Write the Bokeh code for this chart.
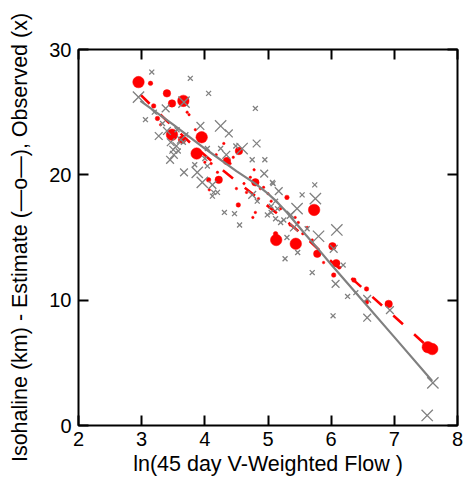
from bokeh.plotting import figure
from bokeh.models import Range1d, LinearAxis, FixedTicker, ColumnDataSource
from bokeh.embed import file_html
from bokeh.resources import INLINE

# ---- data ----
obs_x = [3.16, 3.77, 4.06, 2.95, 3.67, 4.80, 3.06, 3.38, 3.20, 3.27, 3.93, 4.25, 4.38, 4.82, 4.59, 4.04, 4.25, 4.34,
         3.46, 3.50, 3.55, 3.62, 3.51, 3.45, 3.58, 3.66, 3.40, 3.70, 3.33, 3.56,
         3.67, 3.88, 3.96, 4.12, 4.14, 4.20, 4.12, 3.84, 4.00, 4.04, 4.49, 4.75, 4.95, 4.94, 5.07, 5.17, 4.75, 4.83,
         5.08, 5.12, 5.54, 5.74, 5.75, 5.46, 5.36, 4.99, 5.05, 5.12, 4.31, 4.47, 4.55, 5.20, 5.25, 5.41, 5.62, 5.80,
         6.09, 6.04, 5.30, 5.47, 5.27, 6.19, 5.70, 6.07, 6.26, 6.39, 6.57, 6.57, 6.03, 6.93, 7.61, 7.52, 5.05, 5.15]
obs_y = [28.2, 27.7, 26.5, 26.2, 25.8, 25.3, 24.4, 25.3, 25.0, 23.1, 23.9, 23.9, 23.3, 22.5, 22.1, 22.1, 22.1, 21.6,
         22.6, 22.0, 22.3, 22.8, 21.6, 21.2, 21.9, 22.6, 23.5, 23.2, 24.1, 23.6,
         20.2, 20.2, 19.4, 19.2, 18.6, 18.6, 18.3, 20.8, 21.3, 20.7, 22.3, 21.2, 21.2, 20.1, 19.4, 18.7, 18.4, 17.9,
         19.3, 17.9, 18.4, 19.2, 18.1, 17.3, 16.8, 16.8, 17.0, 16.5, 17.0, 16.9, 16.0, 16.2, 16.4, 15.8, 15.7, 15.1,
         15.6, 14.1, 15.0, 13.8, 13.3, 12.8, 12.2, 11.3, 10.3, 10.6, 10.1, 8.6, 8.75, 9.2, 3.4, 0.8, 17.5, 17.3]
obs_w = [1, 1, 1, 3, 3, 1, 1, 2, 1, 2, 2, 3, 2, 2, 3, 1, 1, 2,
         2, 2, 2, 2, 2, 2, 1, 1, 2, 1, 1, 1,
         2, 3, 3, 2, 1, 1, 1, 1, 1, 1, 1, 1, 1, 2, 1, 2, 2, 1,
         1, 1, 1, 1, 3, 3, 2, 1, 1, 1, 1, 1, 1, 1, 1, 2, 1, 3,
         3, 2, 1, 1, 1, 1, 1, 2, 1, 1, 2, 2, 1, 2, 3, 3, 1, 1]

est_x = [2.95, 3.14, 3.40, 3.48, 3.66, 3.19, 3.75, 3.25, 3.48, 3.64, 3.95, 3.87, 4.22, 4.06, 4.53, 4.54, 4.35, 4.80,
         5.73, 5.30, 5.13, 5.12, 4.78, 4.72, 5.43, 5.44, 5.78, 6.02, 6.08, 6.04, 6.56, 6.36, 6.56, 6.91, 7.53, 7.60,
         3.30, 3.85, 4.00, 4.10, 4.18, 4.30, 4.40, 4.62, 4.66, 4.50, 4.85, 4.93, 5.00, 4.80, 4.76, 5.20, 5.35, 5.55,
         5.62, 5.88, 6.14, 4.20, 4.07, 3.72, 4.45, 4.88, 5.05, 5.48, 5.70]
est_y = [27.4, 27.3, 26.5, 25.7, 25.9, 25.5, 24.8, 24.5, 23.2, 22.8, 23.0, 21.7, 19.6, 19.6, 17.6, 21.9, 21.1, 19.4,
         17.2, 18.2, 14.8, 15.3, 20.4, 19.8, 16.6, 14.5, 13.7, 14.3, 12.95, 12.0, 10.9, 11.6, 9.85, 9.7, 6.25, 6.1,
         24.0, 23.6, 21.0, 20.9, 21.6, 22.5, 20.9, 19.3, 18.6, 18.9, 18.1, 19.0, 18.5, 17.0, 16.6, 17.3, 16.0, 15.3,
         15.8, 13.0, 12.6, 20.2, 18.8, 25.0, 21.4, 18.9, 17.9, 16.2, 14.8]
est_w = [4, 2, 3, 3, 4, 2, 1, 2, 4, 3, 4, 4, 3, 2, 2, 3, 3, 3,
         4, 2, 4, 2, 1, 1, 1, 4, 3, 3, 3, 2, 2, 2, 2, 3, 4, 4,
         1, 1, 1, 1, 1, 1, 1, 1, 1, 1, 1, 1, 1, 1, 1, 1, 1, 1,
         1, 1, 1, 1, 1, 1, 1, 1, 1, 1, 1]

trend_x = [2.98, 3.38, 3.76, 4.2, 4.8, 5.2, 5.6, 6.0, 6.4, 6.8, 7.2, 7.57]
trend_y = [26.4, 24.4, 22.6, 20.7, 18.3, 16.7, 15.0, 13.1, 11.4, 9.6, 7.8, 6.1]

fit_x = [2.98, 3.5, 4.0, 4.5, 4.8, 5.0, 5.15, 5.3, 5.45, 5.6, 5.8, 6.0, 6.5, 7.0, 7.6]
fit_y = [25.9, 24.0, 22.1, 20.3, 19.3, 18.5, 17.8, 17.0, 16.1, 15.2, 14.05, 12.85, 9.95, 7.05, 3.55]

x_ticks = [2, 3, 4, 5, 6, 7, 8]
y_ticks = [0, 10, 20, 30]
y_title = "Isohaline (km) - Estimate (\u2014o\u2014), Observed (x)"
x_title = "ln(45 day V-Weighted Flow )"

# ---- styles ----
obs_size_map = {1: 7, 2: 11, 3: 16}
est_size_map = {1: 2.5, 2: 4.5, 3: 7.5, 4: 11.5}
FONT = "Liberation Sans"
FS = "20px"
TFS = "21.5px"

p = figure(width=464, height=489, x_range=Range1d(2, 8), y_range=Range1d(0, 30),
           output_backend="svg", toolbar_location=None,
           min_border_left=78, min_border_right=7, min_border_top=49, min_border_bottom=64)
p.xgrid.visible = False
p.ygrid.visible = False
p.outline_line_color = "black"
p.outline_line_width = 2
p.background_fill_color = "white"
p.border_fill_color = "white"

est_src = ColumnDataSource(dict(x=est_x, y=est_y, s=[est_size_map[w] for w in est_w]))
obs_src = ColumnDataSource(dict(x=obs_x, y=obs_y, s=[obs_size_map[w] for w in obs_w]))

p.line(trend_x, trend_y, line_color="#ff0000", line_width=2.6, line_dash="13 15")
p.scatter("x", "y", size="s", source=est_src, marker="circle",
          fill_color="#ff0000", line_color="#ff0000", line_width=0.5)
p.scatter("x", "y", size="s", source=obs_src, marker="x",
          line_color="#808080", line_width=1.3)
p.line(fit_x, fit_y, line_color="#808080", line_width=2.2)

xa = p.xaxis[0]
xa.ticker = FixedTicker(ticks=x_ticks)
ya = p.yaxis[0]
ya.ticker = FixedTicker(ticks=y_ticks)
for ax in (xa, ya):
    ax.axis_line_color = None
    ax.major_tick_in = 10
    ax.major_tick_out = 0
    ax.major_tick_line_width = 2
    ax.major_tick_line_color = "black"
    ax.minor_tick_line_color = None
    ax.major_label_text_font = FONT
    ax.major_label_text_font_size = FS
    ax.major_label_text_color = "black"
    ax.axis_label_text_font = FONT
    ax.axis_label_text_font_size = TFS
    ax.axis_label_text_font_style = "normal"
    ax.axis_label_text_color = "black"
xa.major_label_standoff = 6
ya.major_label_standoff = 7
ya.axis_label = y_title
ya.axis_label_standoff = 14
xa.axis_label = x_title
xa.axis_label_standoff = 3

top = LinearAxis(ticker=FixedTicker(ticks=x_ticks), axis_line_color=None, major_tick_in=10,
                 major_tick_out=0, major_tick_line_width=2, minor_tick_line_color=None,
                 major_label_overrides={t: "" for t in x_ticks}, major_label_text_font_size="0px")
right = LinearAxis(ticker=FixedTicker(ticks=y_ticks), axis_line_color=None, major_tick_in=10,
                   major_tick_out=0, major_tick_line_width=2, minor_tick_line_color=None,
                   major_label_overrides={t: "" for t in y_ticks}, major_label_text_font_size="0px")
p.add_layout(top, "above")
p.add_layout(right, "right")

open("out.html", "w").write(file_html(p, INLINE))
